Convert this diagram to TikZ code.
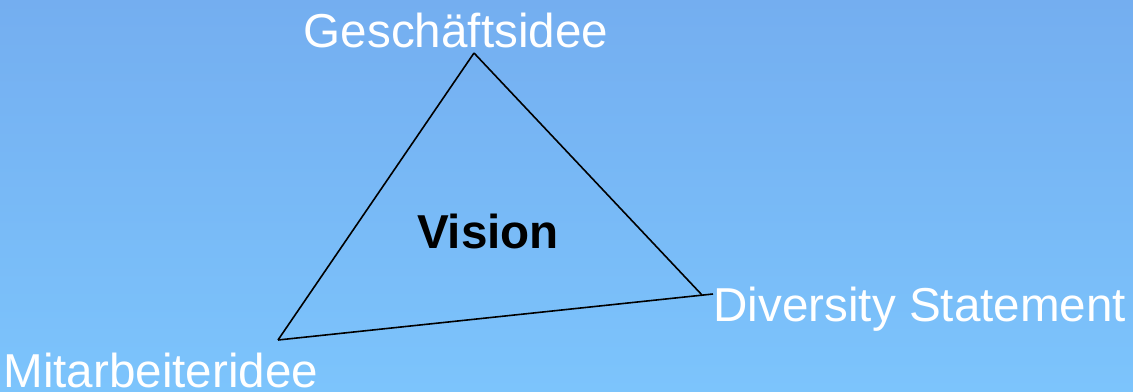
\documentclass[tikz,border=0pt]{standalone}
\usepackage{fontspec}
\setmainfont{Liberation Sans}
\usepackage{tikz}
\definecolor{skytop}{RGB}{116,174,240}
\definecolor{skybot}{RGB}{124,196,252}

\begin{document}
\begin{tikzpicture}[x=0.5pt, y=-0.5pt,
	every node/.style={font=\fontsize{23.8}{28}\selectfont, inner sep=0pt},
	label/.style={white}]
	\shade[top color=skytop, bottom color=skybot] (0,0) rectangle (1133,391);
	\useasboundingbox (0,0) rectangle (1133,391);
	% corners of the triangle
	\coordinate (top) at (474,53);
	\coordinate (left) at (278,340);
	\coordinate (right) at (702,295);
	\coordinate (rend) at (713,294);
	\draw[line width=0.8pt, black] (top) -- (right);
	\draw[line width=0.8pt, black] (top) -- (left);
	\draw[line width=0.8pt, black] (left) -- (rend);
	% labels
	\node[label, anchor=base] (gesch) at (456,47) {Geschäftsidee};
	\node[label, anchor=base west] (div) at (713,321) {Diversity Statement};
	\node[label, anchor=base west] (mitarb) at (3,387) {Mitarbeiteridee};
	\node[anchor=base, font=\fontsize{23.8}{28}\selectfont\bfseries] (vision) at (488,248) {Vision};
\end{tikzpicture}
\end{document}
